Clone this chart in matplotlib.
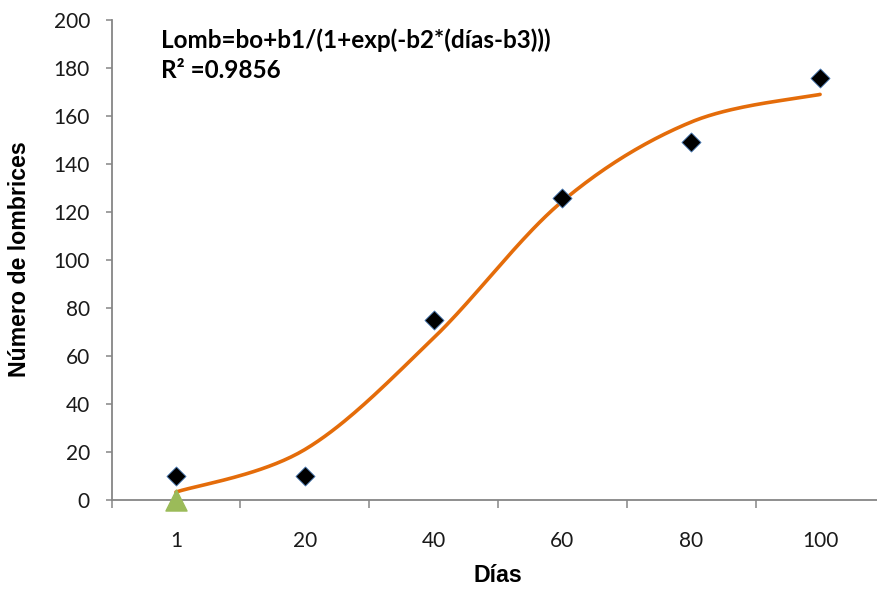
import numpy as np
import matplotlib
matplotlib.use("Agg")
import matplotlib.pyplot as plt

plt.rcParams['font.family'] = ['Lato', 'DejaVu Sans']

dias_labels = ["1", "20", "40", "60", "80", "100"]
observed = [10, 10, 75, 126, 149, 176]
fitted = [3.3, 21, 67.5, 124.5, 157.5, 169]
start_label = "1"
start_value = 0

fig = plt.figure(figsize=(8.77, 5.89), dpi=100)
W, H = 877, 589
left, right, top, bottom = 111.5, 884.5, 20, 500
ax = fig.add_axes([left / W, 1 - bottom / H, (right - left) / W, (bottom - top) / H])

n = len(dias_labels)
xs = np.arange(n)

# Excel-style smoothed line (Bezier through the fitted points)
def smooth(x, y, steps=40):
    P = np.column_stack([x, y]).astype(float)
    out = [P[0]]
    for i in range(len(P) - 1):
        p0 = P[i - 1] if i > 0 else P[i]
        p1 = P[i]
        p2 = P[i + 1]
        p3 = P[i + 2] if i + 2 < len(P) else P[i + 1]
        c1 = p1 + (p2 - p0) / 6.0
        c2 = p2 - (p3 - p1) / 6.0
        t = np.linspace(0, 1, steps)[1:, None]
        seg = ((1 - t) ** 3) * p1 + 3 * ((1 - t) ** 2) * t * c1 + 3 * (1 - t) * t ** 2 * c2 + t ** 3 * p2
        out.extend(seg)
    out = np.array(out)
    return out[:, 0], out[:, 1]

sx, sy = smooth(xs, fitted)
ax.plot(sx, sy, color='#E46C0A', lw=2.6, zorder=2, solid_capstyle='round')
ax.scatter(xs, observed, marker='D', s=95, color='black', edgecolors='#4F81BD',
           linewidths=0.6, zorder=3)
ax.scatter([dias_labels.index(start_label)], [start_value], marker='^', s=230,
           color='#9BBB59', edgecolors='#9BBB59', zorder=4, clip_on=False)

ax.set_xlim(-0.5, n - 0.5)
ax.set_ylim(0, 200)
ax.set_yticks(np.arange(0, 201, 20))
ax.set_xticks(xs)
ax.set_xticklabels(dias_labels)
ax.set_xticks(np.arange(-0.5, n, 1.0), minor=True)

for s in ['top', 'right']:
    ax.spines[s].set_visible(False)
for s in ['left', 'bottom']:
    ax.spines[s].set_color('#868686')
    ax.spines[s].set_linewidth(1.3)

ax.tick_params(axis='y', which='major', direction='out', length=4.5, width=1.1,
               color='#868686', labelsize=15, pad=11, labelcolor='#1a1a1a')
ax.tick_params(axis='x', which='major', length=0, labelsize=15, pad=22,
               labelcolor='#1a1a1a')
ax.tick_params(axis='x', which='minor', direction='out', length=6, width=1.1,
               color='#868686')

fig.text(20 / W, 1 - 259 / H, "Número de lombrices", rotation=90, ha='center',
         va='center', fontsize=16.7, fontweight='bold', family='Liberation Sans')
fig.text(497.5 / W, 1 - 576 / H, "Días", ha='center', va='center', fontsize=16.7,
         fontweight='bold', family='Liberation Sans')

fig.text(161 / W, 1 - 40 / H, "Lomb=bo+b1/(1+exp(-b2*(días-b3)))", ha='left',
         va='center', fontsize=17.5, fontweight='bold')
fig.text(161 / W, 1 - 71 / H, "R² =0.9856", ha='left', va='center',
         fontsize=17.5, fontweight='bold')

fig.savefig("out.png", dpi=100)
